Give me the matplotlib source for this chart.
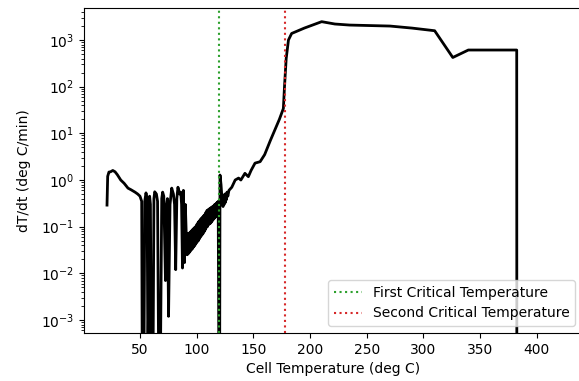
import matplotlib
matplotlib.use("Agg")
import matplotlib.pyplot as plt

# ---- data ----
start_T = [20.9, 21.5, 22.6, 24, 26, 28, 30, 33, 36, 39.4, 42, 45.6, 48, 50, 51.5]
start_rate = [0.29, 1.2, 1.48, 1.5, 1.6, 1.5, 1.3, 1.0, 0.85, 0.67, 0.62, 0.55, 0.5, 0.45, 0.35]

osc_T = [52, 53.5, 54.2, 55.3, 56.3, 57, 58.5, 59.2, 60, 61.5, 62.3, 63, 64.5, 65.5,
         66.5, 68, 69.2, 70, 71, 72.5, 73.5, 74.2, 75.2, 76.5, 78, 79.5, 80.5,
         81.5, 82.5, 83.5, 85, 86, 86.7, 87.5, 88.3, 89.3, 90, 91]
osc_rate = [1e-4, 1e-4, 0.35, 0.53, 0.4, 1e-4, 0.45, 0.3, 1e-4, 1e-4, 0.4, 0.56, 0.5, 0.35,
            1e-4, 1e-4, 0.4, 0.55, 0.45, 7e-3, 0.3, 0.4, 1.2e-3, 0.3, 0.67, 0.5, 0.3,
            0.012, 0.4, 0.7, 0.5, 0.55, 0.3, 0.013, 0.6, 0.017, 0.3, 0.05]

band_T = [91.5, 92, 92.5, 93, 93.5, 94, 94.5, 95, 95.5, 96, 96.5, 97, 97.5, 98, 98.5, 99,
          99.5, 100, 100.5, 101, 101.5, 102, 102.5, 103, 103.5, 104, 104.5, 105, 105.5,
          106, 106.5, 107, 107.5, 108, 108.5, 109, 109.5, 110, 110.5, 111, 111.5, 112,
          112.5, 113, 113.5, 114, 114.5, 115, 115.5, 116, 116.5, 117, 117.5, 118, 118.5, 119]
band_rate = [0.025, 0.07, 0.026, 0.072, 0.028, 0.075, 0.03, 0.08, 0.032, 0.085, 0.034, 0.09,
             0.037, 0.095, 0.04, 0.1, 0.044, 0.11, 0.047, 0.12, 0.05, 0.13, 0.055, 0.14,
             0.06, 0.15, 0.065, 0.16, 0.07, 0.17, 0.077, 0.18, 0.085, 0.2, 0.095, 0.22,
             0.1, 0.23, 0.11, 0.24, 0.115, 0.25, 0.12, 0.26, 0.13, 0.27, 0.14, 0.28,
             0.15, 0.3, 0.16, 0.31, 0.17, 0.33, 0.19, 0.35]

late_T = [119.6, 120.3, 120.6, 121.5, 122.5, 123.3, 123.8, 124.3, 124.8, 125.3, 125.8,
          126.3, 126.8, 127.5, 128.5, 131, 134, 137, 139, 142.6, 145.6, 148, 151.5, 156,
          160, 165, 169, 173, 176.5, 177.5, 179, 181, 183.8, 195, 210.3, 222, 235, 250,
          270.6, 290, 310, 326, 339.7, 382.4, 382.5]
late_rate = [1e-4, 1e-4, 1.28, 0.8, 0.35, 0.27, 0.45, 0.3, 0.5, 0.33, 0.5,
             0.38, 0.55, 0.45, 0.6, 0.7, 1.0, 1.1, 1.0, 1.39, 1.18, 1.6, 2.3, 2.47,
             3.5, 7, 11.8, 20, 34, 100, 400, 1000, 1380, 1800, 2470, 2200, 2090, 2050,
             1990, 1800, 1580, 422, 610, 610, 1e-4]

first_critical = 120
second_critical = 178

temps = start_T + osc_T + band_T + late_T
rates = start_rate + osc_rate + band_rate + late_rate

fig = plt.figure(figsize=(5.79, 3.81), dpi=100)
ax = fig.add_axes([84 / 579, 48 / 381, (582 - 84) / 579, (373 - 48) / 381])
ax.plot(temps, rates, color="black", lw=2)
ax.axvline(first_critical, color="tab:green", ls=":", lw=1.5, label="First Critical Temperature")
ax.axvline(second_critical, color="tab:red", ls=":", lw=1.5, label="Second Critical Temperature")
ax.set_yscale("log")
ax.set_xlim(0.6, 440)
ax.set_ylim(5.27e-4, 4850)
ax.set_xticks([50, 100, 150, 200, 250, 300, 350, 400])
ax.set_xlabel("Cell Temperature (deg C)")
ax.set_ylabel("dT/dt (deg C/min)", labelpad=7)
ax.legend(loc="lower right")
fig.savefig("out.png", dpi=100)
